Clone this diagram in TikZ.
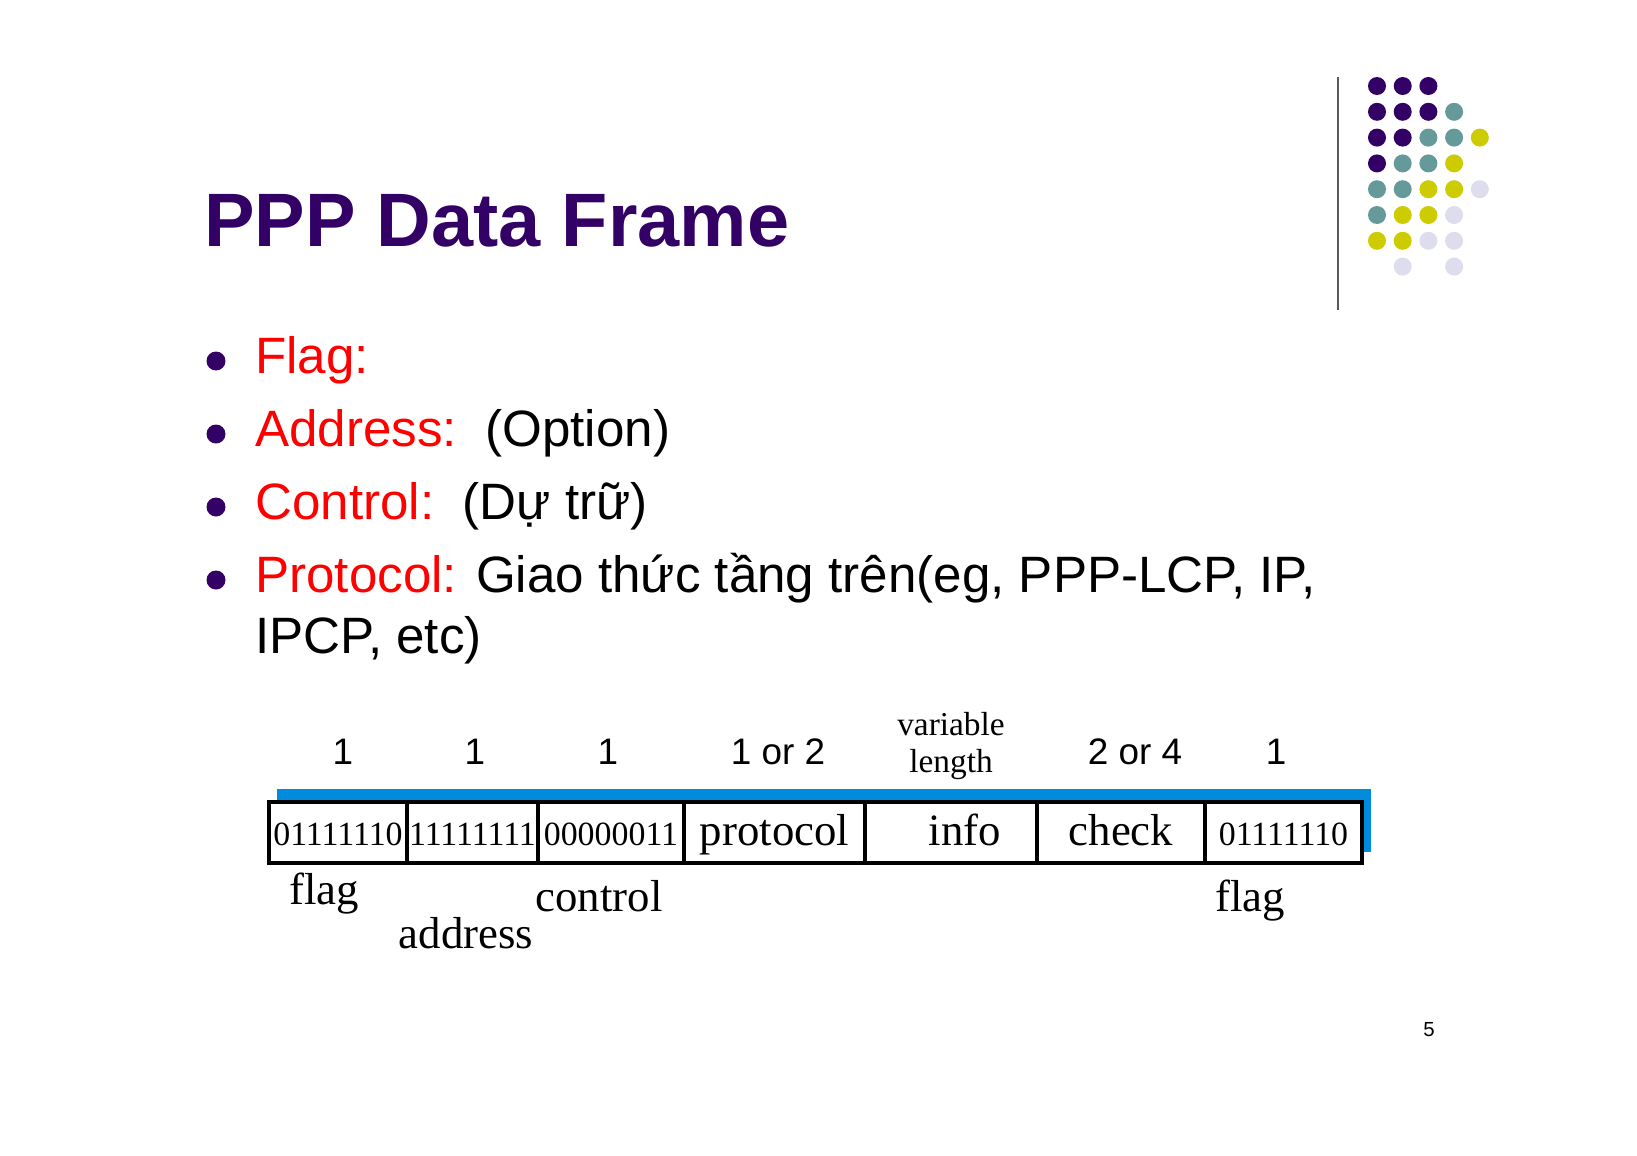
\documentclass[tikz,border=0pt]{standalone}
\usepackage{fontspec}
\setmainfont{Liberation Sans}
\newfontfamily\timesfont{Liberation Serif}
\usetikzlibrary{positioning}

\definecolor{slidepurple}{RGB}{51,0,102}
\definecolor{dotteal}{RGB}{102,153,153}
\definecolor{dotyellow}{RGB}{204,204,0}
\definecolor{dotlilac}{RGB}{221,221,238}
\definecolor{frameblue}{RGB}{0,140,220}
\definecolor{slidered}{RGB}{255,0,0}

\tikzset{
  bodytext/.style={anchor=base west, inner sep=0pt, font=\fontsize{29.1}{34}\selectfont},
  cell/.style={draw, fill=white, line width=2.3pt, outer sep=0pt, inner sep=0pt,
    minimum height=61*0.02cm, minimum width=#1*0.02cm, anchor=west,
    text height=17pt, text depth=2pt},
  bits/.style={font=\timesfont\fontsize{19.3}{21}\selectfont},
  field/.style={font=\timesfont\fontsize{25.5}{28}\selectfont},
  sizelbl/.style={inner sep=0pt, font=\fontsize{21}{24}\selectfont},
  namelbl/.style={anchor=base, inner sep=0pt, font=\timesfont\fontsize{25.5}{28}\selectfont},
}

\begin{document}
\begin{tikzpicture}[x=0.02cm, y=-0.02cm]
\useasboundingbox (0,0) rectangle (1637,1156);
\fill[white] (0,0) rectangle (1637,1156);

\draw[line width=1.1pt, gray!70!black] (1338,77) -- (1338,310);
\foreach \c/\r/\clr in {0/0/slidepurple,1/0/slidepurple,2/0/slidepurple,
    0/1/slidepurple,1/1/slidepurple,2/1/slidepurple,3/1/dotteal,
    0/2/slidepurple,1/2/slidepurple,2/2/dotteal,3/2/dotteal,4/2/dotyellow,
    0/3/slidepurple,1/3/dotteal,2/3/dotteal,3/3/dotyellow,
    0/4/dotteal,1/4/dotteal,2/4/dotyellow,3/4/dotyellow,4/4/dotlilac,
    0/5/dotteal,1/5/dotyellow,2/5/dotyellow,3/5/dotlilac,
    0/6/dotyellow,1/6/dotyellow,2/6/dotlilac,3/6/dotlilac,
    1/7/dotlilac,3/7/dotlilac}
  \fill[\clr] ({1377+25.7*\c},{86+25.8*\r}) circle (0.18cm);

\node[anchor=base west, inner sep=0pt, text=slidepurple,
  font=\bfseries\fontsize{43.1}{50}\selectfont] (title) at (204,246) {PPP Data Frame};

\foreach \yb in {361,434,507,580}
  \fill[slidepurple] (216,\yb) circle (0.19cm);
\node[bodytext] (flag) at (255,373) {\textcolor{slidered}{Flag:}};
\node[bodytext] (addr) at (255,446) {\textcolor{slidered}{Address:}\ \ (Option)};
\node[bodytext] (ctrl) at (255,519) {\textcolor{slidered}{Control:}\ \ (Dự trữ)};
\node[bodytext] (proto) at (255,592) {\textcolor{slidered}{Protocol:} Giao thức tầng trên(eg, PPP-LCP, IP,};
\node[bodytext] (protomore) at (255,653) {IPCP, etc)};

\fill[frameblue] (277,789) rectangle (1371,852);
\node[cell=138, bits] (c1) at (269,832.5) {01111110};
\node[cell=131, bits, right=0pt of c1] (c2) {11111111};
\node[cell=146, bits, right=0pt of c2] (c3) {00000011};
\node[cell=181, field, right=0pt of c3] (c4) {protocol};
\node[cell=172, field, right=0pt of c4] (c5) {\hspace*{0.56cm}info};
\node[cell=168, field, right=0pt of c5] (c6) {check};
\node[cell=157, bits, right=0pt of c6] (c7) {01111110};

\node[sizelbl] (s1) at (343,752) {1};
\node[sizelbl] (s2) at (475,752) {1};
\node[sizelbl] (s3) at (608,752) {1};
\node[sizelbl] (s4) at (778,752) {1 or 2};
\node[sizelbl, align=center, font=\timesfont\fontsize{19}{21}\selectfont] (s5) at (951,746) {variable\\length};
\node[sizelbl] (s6) at (1135,752) {2 or 4};
\node[sizelbl] (s7) at (1276,752) {1};

\node[namelbl] (n1) at (324,904) {flag};
\node[namelbl] (n2) at (466,948) {address};
\node[namelbl] (n3) at (599,911) {control};
\node[namelbl] (n7) at (1250,911) {flag};

\node[inner sep=0pt, font=\fontsize{11.6}{14}\selectfont] (pagenum) at (1429,1030) {5};
\end{tikzpicture}
\end{document}
